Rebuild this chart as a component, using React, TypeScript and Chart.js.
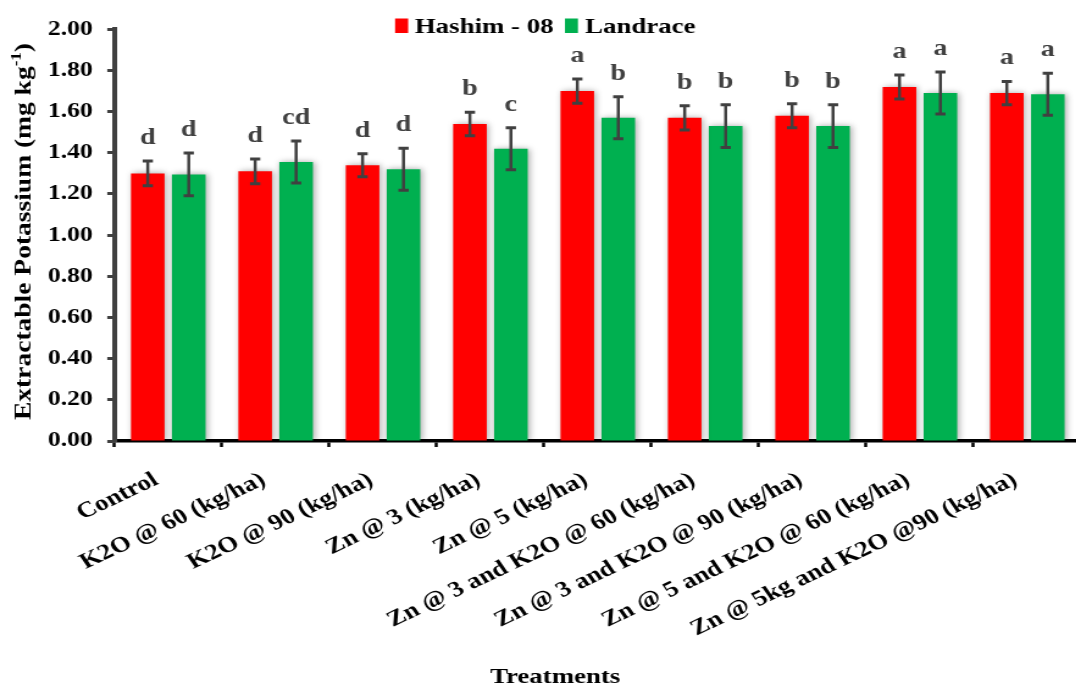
import React, { useEffect, useRef } from 'react';
import { Chart, registerables } from 'chart.js';

Chart.register(...registerables);

// ---- data ----
const categories = [
  'Control',
  'K2O @ 60 (kg/ha)',
  'K2O @ 90 (kg/ha)',
  'Zn @ 3 (kg/ha)',
  'Zn @ 5 (kg/ha)',
  'Zn @ 3 and K2O @ 60 (kg/ha)',
  'Zn @ 3 and K2O @ 90 (kg/ha)',
  'Zn @ 5 and K2O @ 60 (kg/ha)',
  'Zn @ 5kg and K2O @90 (kg/ha)',
];
const seriesNames = ['Hashim - 08', 'Landrace'];
const hashim = [1.3, 1.31, 1.34, 1.54, 1.7, 1.57, 1.58, 1.72, 1.69];
const landrace = [1.295, 1.355, 1.32, 1.42, 1.57, 1.53, 1.53, 1.69, 1.685];
const hashimErr = [0.06, 0.06, 0.056, 0.057, 0.059, 0.059, 0.058, 0.058, 0.057];
const landraceErr = [0.104, 0.102, 0.102, 0.102, 0.102, 0.104, 0.104, 0.102, 0.102];
const hashimLetters = ['d', 'd', 'd', 'b', 'a', 'b', 'b', 'a', 'a'];
const landraceLetters = ['d', 'cd', 'd', 'c', 'b', 'b', 'b', 'a', 'a'];
const yMin = 0;
const yMax = 2;
const yStep = 0.2;

// ---- layout (internal canvas is stretched horizontally by SX) ----
const SX = 1.22;
const IW = 886;
const IH = 686;
const SERIF = '"Liberation Serif", "Times New Roman", serif';
const RED = '#FF0000';
const GREEN = '#00B050';
const ERR = '#404040';

export default function App() {
  const ref = useRef<HTMLCanvasElement>(null);

  useEffect(() => {
    const canvas = ref.current;
    if (!canvas) return;

    const plugin = {
      id: 'extras',
      beforeDatasetsDraw(chart: any) {
        const ctx = chart.ctx;
        ctx.save();
        ctx.shadowColor = 'rgba(0,0,0,0.35)';
        ctx.shadowBlur = 6;
        ctx.shadowOffsetX = 1.5;
        ctx.shadowOffsetY = 0;
      },
      afterDatasetsDraw(chart: any) {
        const ctx = chart.ctx;
        ctx.restore();
        const ys = chart.scales.y;
        chart.data.datasets.forEach((ds: any, di: number) => {
          const meta = chart.getDatasetMeta(di);
          const errs = di === 0 ? hashimErr : landraceErr;
          const letters = di === 0 ? hashimLetters : landraceLetters;
          meta.data.forEach((bar: any, i: number) => {
            const v = ds.data[i] as number;
            const e = errs[i];
            const yt = ys.getPixelForValue(v + e);
            const yb = ys.getPixelForValue(v - e);
            const x = bar.x;
            ctx.save();
            ctx.strokeStyle = ERR;
            ctx.lineWidth = 2.5;
            ctx.beginPath();
            ctx.moveTo(x, yt);
            ctx.lineTo(x, yb);
            ctx.stroke();
            ctx.lineWidth = 3;
            ctx.beginPath();
            ctx.moveTo(x - 4.2, yt);
            ctx.lineTo(x + 4.2, yt);
            ctx.moveTo(x - 4.2, yb);
            ctx.lineTo(x + 4.2, yb);
            ctx.stroke();
            ctx.fillStyle = ERR;
            ctx.font = `bold 23px ${SERIF}`;
            ctx.textAlign = 'center';
            ctx.textBaseline = 'alphabetic';
            ctx.fillText(letters[i], x, yt - 17);
            ctx.restore();
          });
        });
      },
      afterDraw(chart: any) {
        const ctx = chart.ctx;
        ctx.save();
        // legend
        ctx.font = `bold 22px ${SERIF}`;
        ctx.textAlign = 'left';
        ctx.textBaseline = 'alphabetic';
        ctx.fillStyle = RED;
        ctx.fillRect(323.8, 18.5, 10.7, 14.5);
        ctx.fillStyle = '#000';
        ctx.fillText(seriesNames[0], 340, 33.3);
        ctx.fillStyle = GREEN;
        ctx.fillRect(463, 18.5, 10.7, 14.5);
        ctx.fillStyle = '#000';
        ctx.fillText(seriesNames[1], 479.5, 33.3);

        // x title
        ctx.textAlign = 'center';
        ctx.fillText('Treatments', 455, 683);

        // y title with superscript
        const f = 18.5;
        const main = 'Extractable Potassium (mg kg';
        const sup = '-1';
        const end = ')';
        ctx.font = `bold ${f}px ${SERIF}`;
        const w1 = ctx.measureText(main).width;
        const w3 = ctx.measureText(end).width;
        ctx.font = `bold ${f * 0.62}px ${SERIF}`;
        const w2 = ctx.measureText(sup).width;
        const total = w1 + w2 + w3;
        const k = 377 / total;
        ctx.translate(24.6, 231.5);
        ctx.rotate(-Math.PI / 2);
        ctx.scale(k, 1);
        ctx.textAlign = 'left';
        let x = -total / 2;
        ctx.font = `bold ${f}px ${SERIF}`;
        ctx.fillText(main, x, 0);
        x += w1;
        ctx.font = `bold ${f * 0.62}px ${SERIF}`;
        ctx.fillText(sup, x, -f * 0.4);
        x += w2;
        ctx.font = `bold ${f}px ${SERIF}`;
        ctx.fillText(end, x, 0);
        ctx.restore();
      },
    };

    const chart = new Chart(canvas, {
      type: 'bar',
      data: {
        labels: categories,
        datasets: [
          {
            label: seriesNames[0],
            data: hashim,
            backgroundColor: RED,
            borderWidth: 0,
            categoryPercentage: 0.763,
            barPercentage: 0.82,
          },
          {
            label: seriesNames[1],
            data: landrace,
            backgroundColor: GREEN,
            borderWidth: 0,
            categoryPercentage: 0.763,
            barPercentage: 0.82,
          },
        ],
      },
      options: {
        responsive: false,
        devicePixelRatio: 1,
        animation: false,
        layout: { padding: { top: 29.3, left: 0, right: 0, bottom: 0 } },
        plugins: {
          legend: { display: false },
          tooltip: { enabled: false },
          title: { display: false },
        },
        scales: {
          x: {
            ticks: {
              autoSkip: false,
              maxRotation: 30,
              minRotation: 30,
              padding: 20,
              labelOffset: -10,
              color: '#000',
              font: { family: SERIF, size: 22, weight: 'bold' },
            },
            grid: {
              offset: true,
              drawOnChartArea: false,
              drawTicks: true,
              tickLength: 6,
              tickColor: '#000',
              tickWidth: 2.5,
            },
            border: { color: '#000', width: 3.5 },
            afterFit(scale: any) {
              scale.height = IH - 441;
            },
          },
          y: {
            min: yMin,
            max: yMax,
            ticks: {
              stepSize: yStep,
              padding: 12,
              color: '#000',
              font: { family: SERIF, size: 21, weight: 'bold' },
              callback: (v: any) => Number(v).toFixed(2),
            },
            grid: {
              drawOnChartArea: false,
              drawTicks: true,
              tickLength: 6,
              tickColor: ERR,
              tickWidth: 3,
            },
            border: { color: ERR, width: 4 },
            afterFit(scale: any) {
              scale.width = 93.9;
            },
          },
        },
      },
      plugins: [plugin],
    } as any);

    return () => chart.destroy();
  }, []);

  return (
    <div
      style={{
        position: 'fixed',
        left: 0,
        top: 0,
        width: 1076,
        height: 686,
        overflow: 'hidden',
        background: '#fff',
      }}
    >
      <canvas
        ref={ref}
        width={IW}
        height={IH}
        style={{ width: `${IW * SX}px`, height: `${IH}px`, display: 'block' }}
      />
    </div>
  );
}
